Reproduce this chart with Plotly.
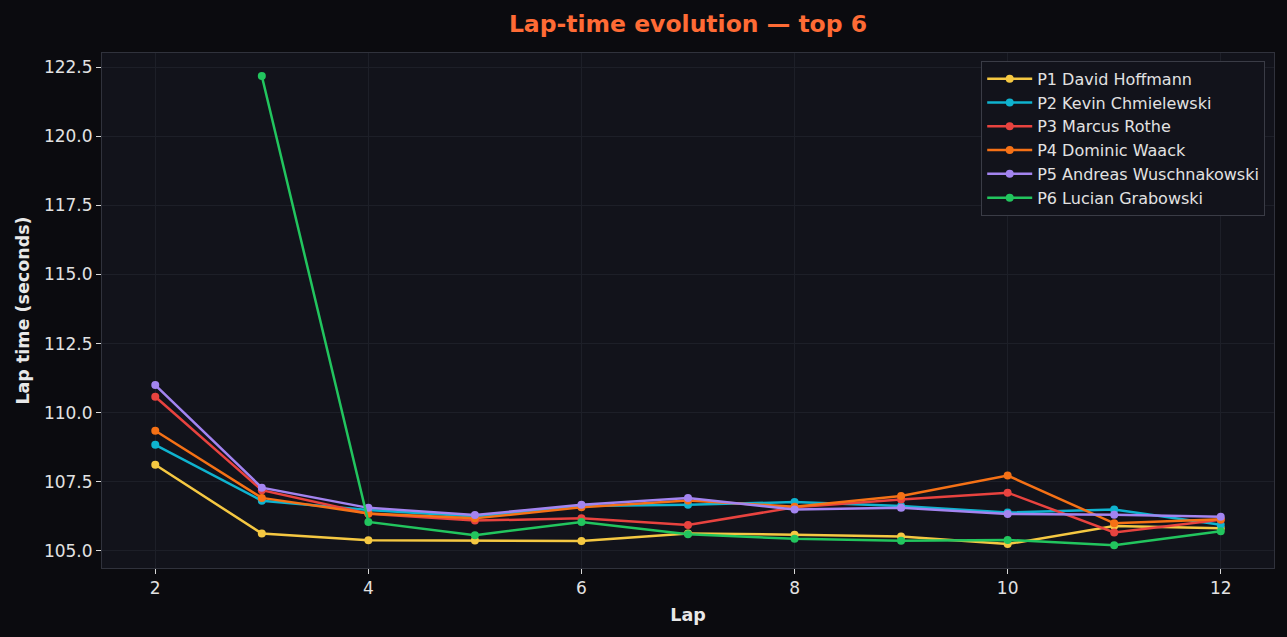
import plotly.graph_objects as go

laps = [2, 3, 4, 5, 6, 7, 8, 9, 10, 11, 12]

drivers = ["P1 David Hoffmann", "P2 Kevin Chmielewski", "P3 Marcus Rothe",
           "P4 Dominic Waack", "P5 Andreas Wuschnakowski", "P6 Lucian Grabowski"]

p1_times = [108.12, 105.63, 105.39, 105.38, 105.36, 105.63, 105.59, 105.52, 105.25, 105.90, 105.82]
p2_times = [108.84, 106.82, 106.48, 106.25, 106.63, 106.67, 106.77, 106.63, 106.39, 106.50, 105.95]
p3_times = [110.58, 107.20, 106.35, 106.10, 106.18, 105.94, 106.58, 106.86, 107.11, 105.67, 106.13]
p4_times = [109.35, 106.92, 106.36, 106.18, 106.58, 106.83, 106.60, 106.99, 107.73, 106.00, 106.15]
p5_times = [111.00, 107.29, 106.56, 106.30, 106.67, 106.92, 106.50, 106.56, 106.34, 106.31, 106.24]
p6_times = [None, 122.18, 106.05, 105.57, 106.05, 105.61, 105.44, 105.37, 105.40, 105.21, 105.71]

series = [p1_times, p2_times, p3_times, p4_times, p5_times, p6_times]
colors = ["#f5c842", "#0fb3cf", "#e8433f", "#f57116", "#a384f0", "#22c55e"]

fig = go.Figure()
for name, vals, col in zip(drivers, series, colors):
    fig.add_trace(go.Scatter(
        x=laps, y=vals, name=name, mode="lines+markers",
        line=dict(color=col, width=2.5),
        marker=dict(color=col, size=8),
        connectgaps=False,
    ))

axis_common = dict(
    showgrid=True, gridcolor="#1d1f28", gridwidth=1,
    showline=True, linecolor="#30323c", linewidth=1, mirror=True,
    ticks="outside", ticklen=5, tickcolor="#d8d8d8", tickwidth=1,
    tickfont=dict(family="DejaVu Sans", size=17, color="#e2e2e2"),
    zeroline=False,
)

fig.update_layout(
    width=1287, height=637,
    paper_bgcolor="#0b0b0f", plot_bgcolor="#12131b",
    margin=dict(l=102, r=13, t=53, b=69),
    title=dict(text="<b>Lap-time evolution — top 6</b>", x=0.5, xanchor="center",
               xref="paper", y=0.962, yanchor="middle",
               font=dict(family="DejaVu Sans", size=23.5, color="#ff6b35")),
    xaxis=dict(range=[1.5, 12.5], tickvals=[2, 4, 6, 8, 10, 12],
               title=dict(text="<b>Lap</b>", standoff=11,
                          font=dict(family="DejaVu Sans", size=17.5, color="#e8e8e8")),
               **axis_common),
    yaxis=dict(range=[104.385, 123.01], tickvals=[105, 107.5, 110, 112.5, 115, 117.5, 120, 122.5],
               tickformat=".1f",
               title=dict(text="<b>Lap time (seconds)</b>", standoff=9,
                          font=dict(family="DejaVu Sans", size=17.5, color="#e8e8e8")),
               **axis_common),
    legend=dict(x=0.9925, xanchor="right", y=0.985, yanchor="top",
                bgcolor="#12131b", bordercolor="#3a3c46", borderwidth=1,
                font=dict(family="DejaVu Sans", size=16, color="#e2e2e2"),
                tracegroupgap=0, itemwidth=45),
    showlegend=True,
)

fig.write_html(
    "out.html",
    config={"displayModeBar": False},
    post_script="document.body.style.margin='0';document.body.style.background='#0b0b0f';",
)
